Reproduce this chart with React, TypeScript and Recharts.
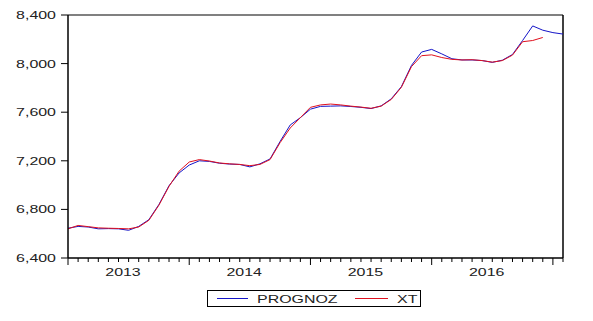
import React from 'react';
import { LineChart, Line, XAxis, YAxis, ReferenceLine } from 'recharts';

// Monthly observations, 2013M01 .. 2017M02 (index 0 = 2013M01)
const prognoz = [
  6645, 6660, 6655, 6640, 6642, 6640, 6628, 6660, 6715, 6840, 6995, 7100,
  7165, 7200, 7195, 7180, 7173, 7170, 7150, 7175, 7215, 7360, 7495, 7555,
  7625, 7648, 7650, 7652, 7647, 7640, 7630, 7652, 7710, 7810, 7985, 8095,
  8117, 8080, 8040, 8030, 8030, 8025, 8010, 8028, 8075, 8190, 8310, 8275,
  8255, 8243,
];
const xt = [
  6640, 6668, 6658, 6648, 6645, 6643, 6640, 6655, 6710, 6835, 6990, 7115,
  7190, 7210, 7198, 7182, 7175, 7170, 7160, 7170, 7210, 7350, 7470, 7555,
  7640, 7660, 7667, 7660, 7650, 7642, 7632, 7650, 7705, 7805, 7975, 8065,
  8072, 8050, 8035, 8030, 8032, 8025, 8012, 8025, 8070, 8180, 8190, 8215,
];
const years = ['2013', '2014', '2015', '2016'];
const yTicks = [6400, 6800, 7200, 7600, 8000, 8400];
const seriesNames = ['PROGNOZ', 'XT'];

const data = prognoz.map((p, i) => ({ i, prognoz: p, xt: i < xt.length ? xt[i] : null }));
const monthTicks = data.map((d) => d.i);

const FONT = 'Liberation Sans, Arial, sans-serif';
const STRETCH = 1.45;
const BLUE = '#1414c8';
const RED = '#e0101e';

const fmt = (v: number) => v.toLocaleString('en-US');

const XTick = (props: any) => {
  const { x, y, payload } = props;
  const v = payload.value as number;
  const major = v % 12 === 0;
  const yi = v / 12;
  return (
    <g>
      <line x1={x} x2={x} y1={y} y2={y + (major ? 7 : 4)} stroke="#000" strokeWidth={1} />
      {major && yi < years.length && (
        <text
          transform={`translate(${x + 55},${y + 18}) scale(${STRETCH},1)`}
          textAnchor="middle"
          fontSize={11}
          fontFamily={FONT}
          fill="#222"
        >
          {years[yi]}
        </text>
      )}
    </g>
  );
};

const YTick = (props: any) => {
  const { x, y, payload } = props;
  return (
    <g>
      <line x1={x - 7} x2={x} y1={y} y2={y} stroke="#000" strokeWidth={1} />
      <text
        transform={`translate(${x - 12},${y + 4}) scale(${STRETCH},1)`}
        textAnchor="end"
        fontSize={11}
        fontFamily={FONT}
        fill="#222"
      >
        {fmt(payload.value)}
      </text>
    </g>
  );
};

const LegendOverlay = () => (
  <svg
    width={593}
    height={321}
    style={{ position: 'absolute', left: 0, top: 0, pointerEvents: 'none' }}
  >
    <rect x={207.5} y={290.5} width={213} height={16} fill="#fff" stroke="#000" strokeWidth={1} />
    <line x1={217} x2={248} y1={298.5} y2={298.5} stroke={BLUE} strokeWidth={1} />
    <text
      transform={`translate(257,303) scale(${STRETCH},1)`}
      fontSize={11}
      fontFamily={FONT}
      fill="#222"
    >
      {seriesNames[0]}
    </text>
    <line x1={355} x2={388} y1={298.5} y2={298.5} stroke={RED} strokeWidth={1} />
    <text
      transform={`translate(397,303) scale(${STRETCH},1)`}
      fontSize={11}
      fontFamily={FONT}
      fill="#222"
    >
      {seriesNames[1]}
    </text>
  </svg>
);

export default function App() {
  return (
    <div style={{ position: 'absolute', left: 0, top: 0, width: 593, height: 321, background: '#fff' }}>
      <LineChart
        width={593}
        height={321}
        data={data}
        margin={{ top: 15, right: 30, bottom: 0, left: 0 }}
      >
        <XAxis
          dataKey="i"
          type="number"
          domain={[0, 49]}
          ticks={monthTicks}
          interval={0}
          height={63}
          tickSize={0}
          tickMargin={0}
          tickLine={false}
          axisLine={{ stroke: '#000', strokeWidth: 1.5 }}
          tick={<XTick />}
        />
        <YAxis
          type="number"
          domain={[6400, 8400]}
          ticks={yTicks}
          interval={0}
          width={68}
          tickSize={0}
          tickMargin={0}
          tickLine={false}
          axisLine={{ stroke: '#000', strokeWidth: 1.5 }}
          tick={<YTick />}
        />
        <ReferenceLine y={8400} stroke="#808080" strokeWidth={2} />
        <ReferenceLine x={49} stroke="#000" strokeWidth={1.5} />
        <Line
          type="linear"
          dataKey="prognoz"
          name={seriesNames[0]}
          stroke={BLUE}
          strokeWidth={1}
          dot={false}
          isAnimationActive={false}
        />
        <Line
          type="linear"
          dataKey="xt"
          name={seriesNames[1]}
          stroke={RED}
          strokeWidth={1}
          dot={false}
          connectNulls={false}
          isAnimationActive={false}
        />
      </LineChart>
      <LegendOverlay />
    </div>
  );
}
